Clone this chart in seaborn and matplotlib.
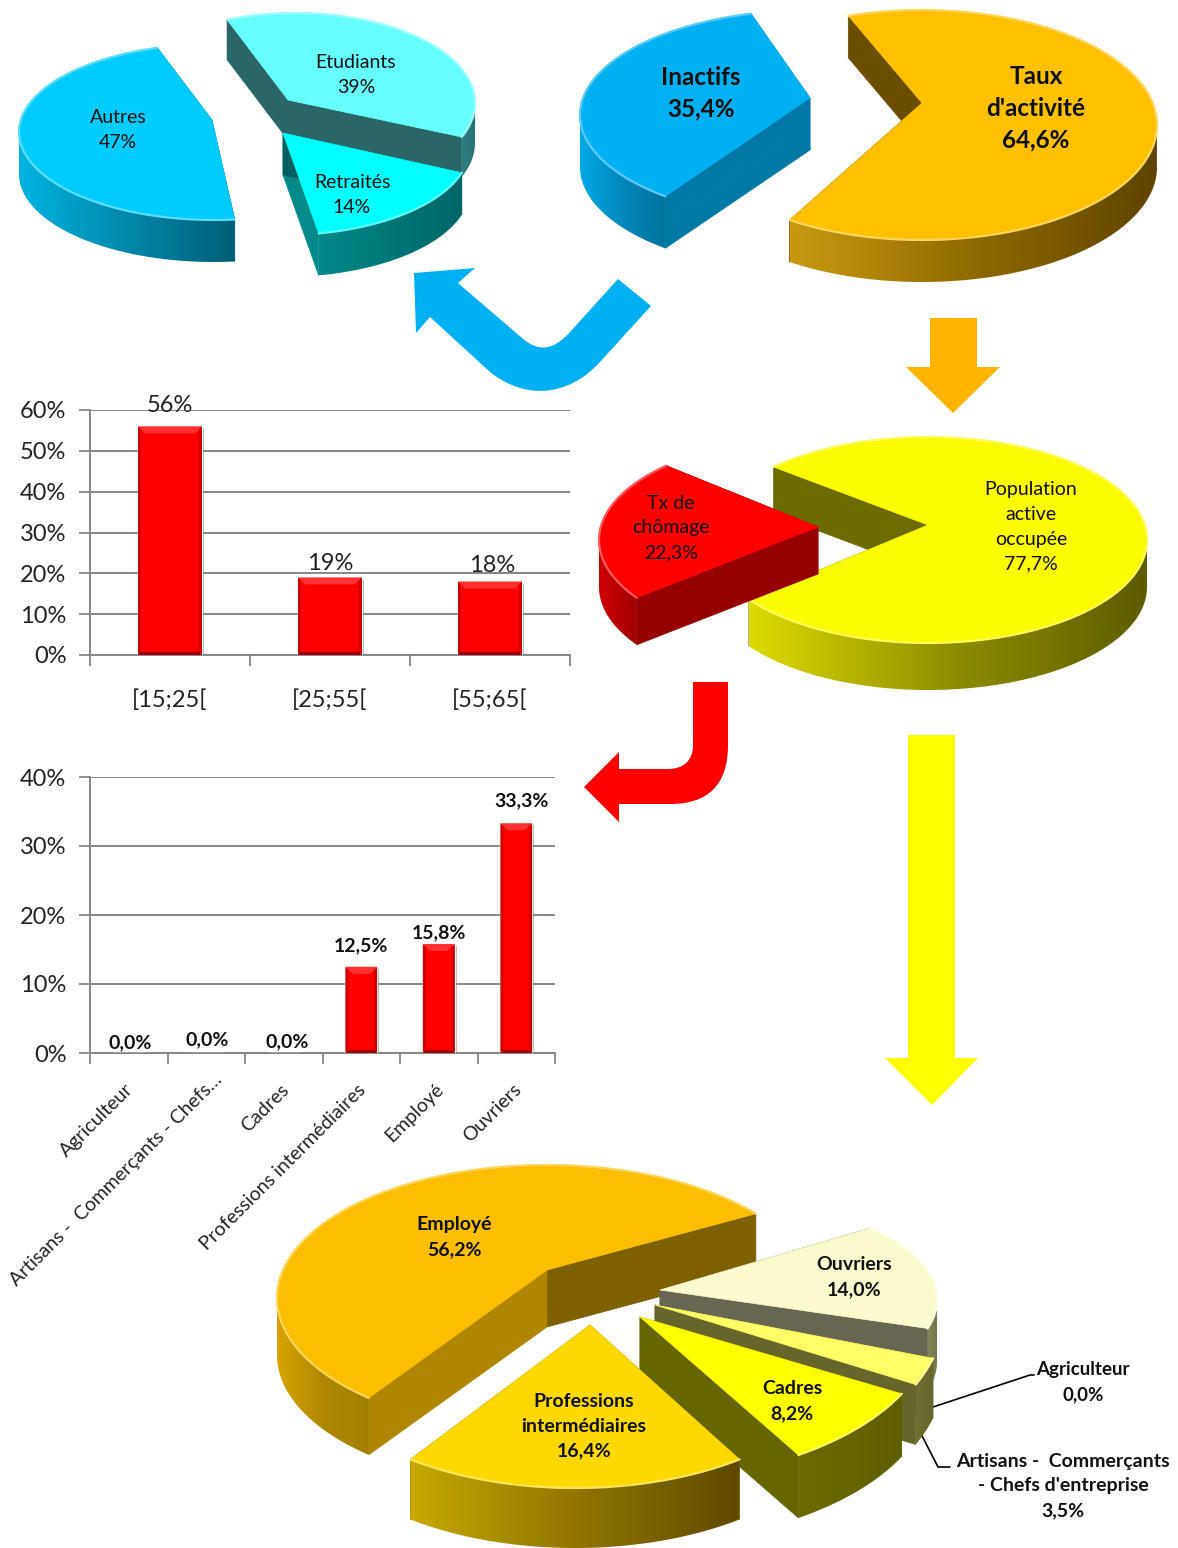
import numpy as np
import matplotlib
matplotlib.use("Agg")
import matplotlib.pyplot as plt
import seaborn as sns
from matplotlib.patches import Polygon, PathPatch
from matplotlib.path import Path
from matplotlib.colors import LinearSegmentedColormap, to_rgb
from matplotlib.transforms import ScaledTranslation
import matplotlib.patheffects as pe

# ---------- data ----------
inactive_labels = ["Autres", "Retraités", "Etudiants"]
inactive_values = [47, 14, 39]
activity_labels = ["Inactifs", "Taux d'activité"]
activity_values = [35.4, 64.6]
employment_labels = ["Population active occupée", "Tx de chômage"]
employment_values = [77.7, 22.3]
occupied_labels = ["Employé", "Ouvriers", "Agriculteur", "Artisans", "Cadres", "Professions intermédiaires"]
occupied_values = [56.2, 14.0, 0.0, 3.5, 8.2, 16.4]

age_labels = ["[15;25[", "[25;55[", "[55;65["]
age_values = [56, 19, 18]
csp_labels = ["Agriculteur", "Artisans -  Commerçants - Chefs…", "Cadres",
              "Professions intermédiaires", "Employé", "Ouvriers"]
csp_values = [0.0, 0.0, 0.0, 12.5, 15.8, 33.3]

W, H = 1178, 1548
sns.set_theme(style="white")
plt.rcParams["font.family"] = ["Lato", "DejaVu Sans"]
fig = plt.figure(figsize=(W / 100, H / 100), dpi=100, facecolor="white")
canvas = fig.add_axes([0, 0, 1, 1], zorder=1)
canvas.patch.set_alpha(0)


def spans(values):
    wedges, _ = canvas.pie(values, radius=1)
    out = [w.theta2 - w.theta1 for w in wedges]
    for w in wedges:
        w.remove()
    return out


def lighten(c, f=0.35):
    r = np.array(to_rgb(c))
    return tuple(r + (1 - r) * f)


def draw_wedge(span, s):
    cx, cy, rx, ry = s["c"][0], s["c"][1], s["r"][0], s["r"][1]
    ax_, ay_ = s["apex"]
    d = s["d"]
    mid = s["mid"]
    st = s.get("stretch", 1.0)
    t = np.radians(np.linspace(mid - span * st / 2, mid + span * st / 2, 160))
    arc = np.c_[cx + rx * np.cos(t), cy - ry * np.sin(t)]
    apex = np.array([ax_, ay_], float)
    down = np.array([0, d])
    for end, col in ((arc[0], s["f1"]), (arc[-1], s["f2"])):
        canvas.add_patch(Polygon([apex, end, end + down, apex + down], fc=col, ec=col, lw=0.5, zorder=s["z"]))
    front = np.sin(t) < 0
    if front.sum() > 1:
        a = arc[front]
        poly = np.r_[a, (a + down)[::-1]]
        clip = Polygon(poly, fc="none", ec="none", zorder=s["z"])
        canvas.add_patch(clip)
        cmap = LinearSegmentedColormap.from_list("g", s["side"])
        x0, x1 = poly[:, 0].min(), poly[:, 0].max()
        y0, y1 = poly[:, 1].min(), poly[:, 1].max()
        im = canvas.imshow(np.linspace(0, 1, 256)[None, :], cmap=cmap, extent=(x0, x1, y1, y0),
                           aspect="auto", zorder=s["z"], interpolation="bilinear")
        im.set_clip_path(clip)
    canvas.add_patch(Polygon(np.r_[[apex], arc], fc=s["top"], ec=s["top"], lw=0.5, zorder=s["z"]))
    canvas.plot(arc[:, 0], arc[:, 1], color=lighten(s["top"]), lw=1.6, zorder=s["z"], solid_capstyle="round")


def draw_pie(values, specs):
    sp = spans(values)
    for i, spec in specs:
        draw_wedge(sp[i], spec)


OR = ["#c99a10", "#8f6900", "#5e4400"]
BL = ["#00a9e6", "#0088bb", "#00729c"]
YE = ["#dcdc00", "#8f8f00", "#5c5c00"]

draw_pie(inactive_values, [
    (2, dict(c=(295, 103), r=(180, 90), apex=(288, 100), d=40, mid=45, stretch=0.957, top="#66FFFF", f1="#2b6666",
             f2="#2b6666", side=["#2b8080", "#2b7070"], z=2)),
    (0, dict(c=(214, 132), r=(195, 88), apex=(212, 120), d=42, mid=191.5, top="#00CCFF", f1="#00607a", f2="#00607a",
             side=["#00b4e0", "#0088ab", "#005f78"], z=3)),
    (1, dict(c=(283, 147), r=(187, 88), apex=(283, 133), d=42, mid=312, stretch=1.23, top="#00FFFF", f1="#008a8a",
             f2="#006060", side=["#008888", "#006666"], z=3)),
])
draw_pie(activity_values, [
    (1, dict(c=(922, 125), r=(235, 115), apex=(922, 103), d=42, mid=352, top="#FFC000", f1="#6b4e00", f2="#6b4e00",
             side=OR, z=3)),
    (0, dict(c=(812, 115), r=(232, 105), apex=(810, 98), d=52, mid=168, stretch=0.985, top="#00B0F0", f1="#0078a6",
             f2="#0078a6", side=BL, z=3)),
])
draw_pie(employment_values, [
    (0, dict(c=(928, 540), r=(219, 103), apex=(928, 525), d=47, mid=355, top="#FAFA00", f1="#6b6b00", f2="#6b6b00",
             side=YE, z=3)),
    (1, dict(c=(818, 540), r=(219, 103), apex=(818, 527), d=47, mid=174, top="#FF0000", f1="#960000", f2="#960000",
             side=["#d00000", "#a00000"], z=3)),
])
draw_pie(occupied_values, [
    (0, dict(c=(547, 1298), r=(270, 133), apex=(547, 1270), d=57, mid=134, stretch=0.92, top="#FCBE00",
             f1="#7d6000", f2="#b08600", side=["#d8a400", "#b08800", "#a37e00"], z=2)),
    (1, dict(c=(660, 1300), r=(277, 110), apex=(660, 1290), d=62, mid=12.85, stretch=1.086, top="#FAFACC",
             f1="#666652", f2="#666652", side=["#85855a", "#74744c"], z=3)),
    (3, dict(c=(655, 1310), r=(290, 170), apex=(655, 1305), d=60, mid=338.75, stretch=0.74, top="#FFFF66",
             f1="#66662a", f2="#66662a", side=["#6e6e30", "#66662a"], z=4)),
    (4, dict(c=(640, 1320), r=(295, 160), apex=(640, 1317), d=63, mid=317.5, top="#FFFF00", f1="#666600", f2="#666600",
             side=["#6b6b00", "#5f5f00"], z=5)),
    (5, dict(c=(575, 1350), r=(270, 138), apex=(590, 1325), d=60, mid=270, stretch=1.25, top="#FFD800", f1="#8a7000",
             f2="#8a7000", side=["#c8a800", "#917600", "#5e4a00"], z=6)),
])


# ---------- arrows ----------
def arrow(verts, codes, color):
    canvas.add_patch(PathPatch(Path(verts, codes), fc=color, ec="none", zorder=2))


M, L, C, Z = Path.MOVETO, Path.LINETO, Path.CURVE4, Path.CLOSEPOLY
pts = [(930, 318), (977, 318), (977, 367), (1000, 367), (953, 413), (906, 367), (930, 367), (930, 318)]
arrow(pts, [M] + [L] * 6 + [Z], "#FFB400")
pts = [(908, 735), (955, 735), (955, 1058), (978, 1058), (932, 1105), (885, 1058), (908, 1058), (908, 735)]
arrow(pts, [M] + [L] * 6 + [Z], "#FFFF00")
pts = [(618, 279), (570, 332), (553, 351), (538, 352), (522, 338), (458, 283), (475, 268), (414, 273), (416, 333),
       (430, 317), (490, 372), (525, 400), (568, 397), (600, 362), (651, 306), (618, 279)]
arrow(pts, [M, L, C, C, C, L, L, L, L, L, L, C, C, C, L, Z], "#00B0F0")
pts = [(693, 682), (728, 682), (728, 745), (728, 785), (708, 804), (670, 804), (619, 804), (619, 822), (584, 787),
       (619, 752), (619, 769), (668, 769), (684, 769), (693, 760), (693, 745), (693, 682)]
arrow(pts, [M, L, L, C, C, C, L, L, L, L, L, L, C, C, C, Z], "#FF0000")


# ---------- labels on the pies ----------
def say(x, y, txt, size=14, bold=False, ls=1.55, z=10):
    canvas.text(x, y, txt, ha="center", va="center", fontsize=size, color="#111111", zorder=z,
                fontweight="bold" if bold else "normal", linespacing=ls)


say(118, 130, "Autres\n47%")
say(356, 75, "Etudiants\n39%")
say(352, 195, "Retraités\n14%")
say(701, 93, "Inactifs\n35,4%", 17.5, True, 1.45)
say(1036, 108, "Taux\nd'activité\n64,6%", 17.5, True, 1.45)
say(671, 528, "Tx de\nchômage\n22,3%")
say(1031, 527, "Population\nactive\noccupée\n77,7%")
say(454, 1237, "Employé\n56,2%", 14, True)
say(854, 1277, "Ouvriers\n14,0%", 14, True)
say(792, 1401, "Cadres\n8,2%", 14, True)
say(584, 1426, "Professions\nintermédiaires\n16,4%", 14, True)
say(1083, 1382, "Agriculteur\n0,0%", 13.5, True)
say(1063, 1486, "Artisans -  Commerçants\n- Chefs d'entreprise\n3,5%", 14, True)
canvas.plot([927, 1030, 1034], [1409, 1375, 1375], color="black", lw=1.2, zorder=2)
canvas.plot([918, 938, 950], [1428, 1467, 1467], color="black", lw=1.2, zorder=2)

canvas.set_xlim(0, W)
canvas.set_ylim(H, 0)
canvas.set_aspect("auto")
canvas.axis("off")


# ---------- bar charts ----------
def bar_axes(x0, x1, ytop, ybot):
    return fig.add_axes([x0 / W, 1 - ybot / H, (x1 - x0) / W, (ybot - ytop) / H], zorder=3, facecolor="none")


def style_bars(ax, n, ymax, step, fs, pad, rot=0):
    grey = "#868686"
    ax.set_ylim(0, ymax)
    ax.set_xlim(-0.5, n - 0.5)
    ax.set_yticks(np.arange(0, ymax + 1, step))
    ax.set_yticklabels([f"{v}%" for v in np.arange(0, ymax + 1, step)], fontsize=17, color="#222222")
    ax.set_xticks(np.arange(-0.5, n), minor=True)
    ax.tick_params(axis="x", which="minor", length=8, width=1.3, color=grey, bottom=True)
    ax.tick_params(axis="x", which="major", length=0, pad=pad)
    ax.tick_params(axis="y", length=8, width=1.3, color=grey, left=True, pad=9)
    ax.yaxis.grid(True, color=grey, lw=1.4)
    ax.set_axisbelow(True)
    ax.set_xlabel("")
    ax.set_ylabel("")
    for side in ("top", "right"):
        ax.spines[side].set_visible(False)
    for side in ("left", "bottom"):
        ax.spines[side].set_color(grey)
        ax.spines[side].set_linewidth(1.4)
    if rot:
        plt.setp(ax.get_xticklabels(), rotation=rot, ha="right", rotation_mode="anchor", fontsize=fs, color="#222222")
    else:
        plt.setp(ax.get_xticklabels(), fontsize=fs, color="#222222")


def bevel(ax, sx, sy):
    for b in ax.patches:
        h = b.get_height()
        if h <= 0:
            continue
        x0, x1 = b.get_x(), b.get_x() + b.get_width()
        b.set_path_effects([pe.SimplePatchShadow(offset=(1.5, -1.5), shadow_rgbFace="#555555", alpha=0.45), pe.Normal()])
        m = 7
        ex, ey = m / sx, m / sy
        ax.fill([x0, x1, x1 - ex, x0 + ex], [h, h, h - ey, h - ey], color="#FF3030", lw=0, zorder=4)
        ax.fill([x0, x0 + 3 / sx, x0 + 3 / sx, x0], [0, 3 / sy, h - 3 / sy, h], color="#D00000", lw=0, zorder=4)
        ax.fill([x1, x1 - 3 / sx, x1 - 3 / sx, x1], [0, 3 / sy, h - 3 / sy, h], color="#D00000", lw=0, zorder=4)
        ax.fill([x0, x1, x1 - 3 / sx, x0 + 3 / sx], [0, 0, 3 / sy, 3 / sy], color="#A00000", lw=0, zorder=4)


ax1 = bar_axes(90, 570, 410, 655)
sns.barplot(x=age_labels, y=age_values, color="#FF0000", saturation=1, width=0.4, ax=ax1, zorder=3)
style_bars(ax1, 3, 60, 10, 17, 24.5)
bevel(ax1, 160, 245 / 60)
offs1 = [(0, 21), (0, 14), (2, 16)]
for i, v in enumerate(age_values):
    ax1.annotate(f"{v}%", (i, v), xytext=(offs1[i][0] * 0.72, offs1[i][1] * 0.72), textcoords="offset points",
                 ha="center", va="center", fontsize=17, color="#222222", annotation_clip=False, zorder=6)

ax2 = bar_axes(90, 555, 777, 1053)
sns.barplot(x=csp_labels, y=csp_values, color="#FF0000", saturation=1, width=0.41, ax=ax2, zorder=3)
style_bars(ax2, 6, 40, 10, 14, 20, rot=45)
bevel(ax2, 77.5, 276 / 40)
label_dx = [-4, 7, -4, -4, -4, -4]
label_dy = [0, 10, 0, 0, 0, 0]
for lab, dx, dy in zip(ax2.get_xticklabels(), label_dx, label_dy):
    lab.set_transform(lab.get_transform() + ScaledTranslation(dx / 100, dy / 100, fig.dpi_scale_trans))
offs2 = [(1, 10), (1, 13), (3, 11), (0, 21), (0, 11), (5, 22)]
for i, v in enumerate(csp_values):
    ax2.annotate(f"{v:.1f}%".replace(".", ","), (i, v), xytext=(offs2[i][0] * 0.72, offs2[i][1] * 0.72),
                 textcoords="offset points", ha="center", va="center", fontsize=14, fontweight="bold",
                 color="#111111", annotation_clip=False, zorder=6)

fig.savefig("out.png", dpi=100, facecolor="white")
